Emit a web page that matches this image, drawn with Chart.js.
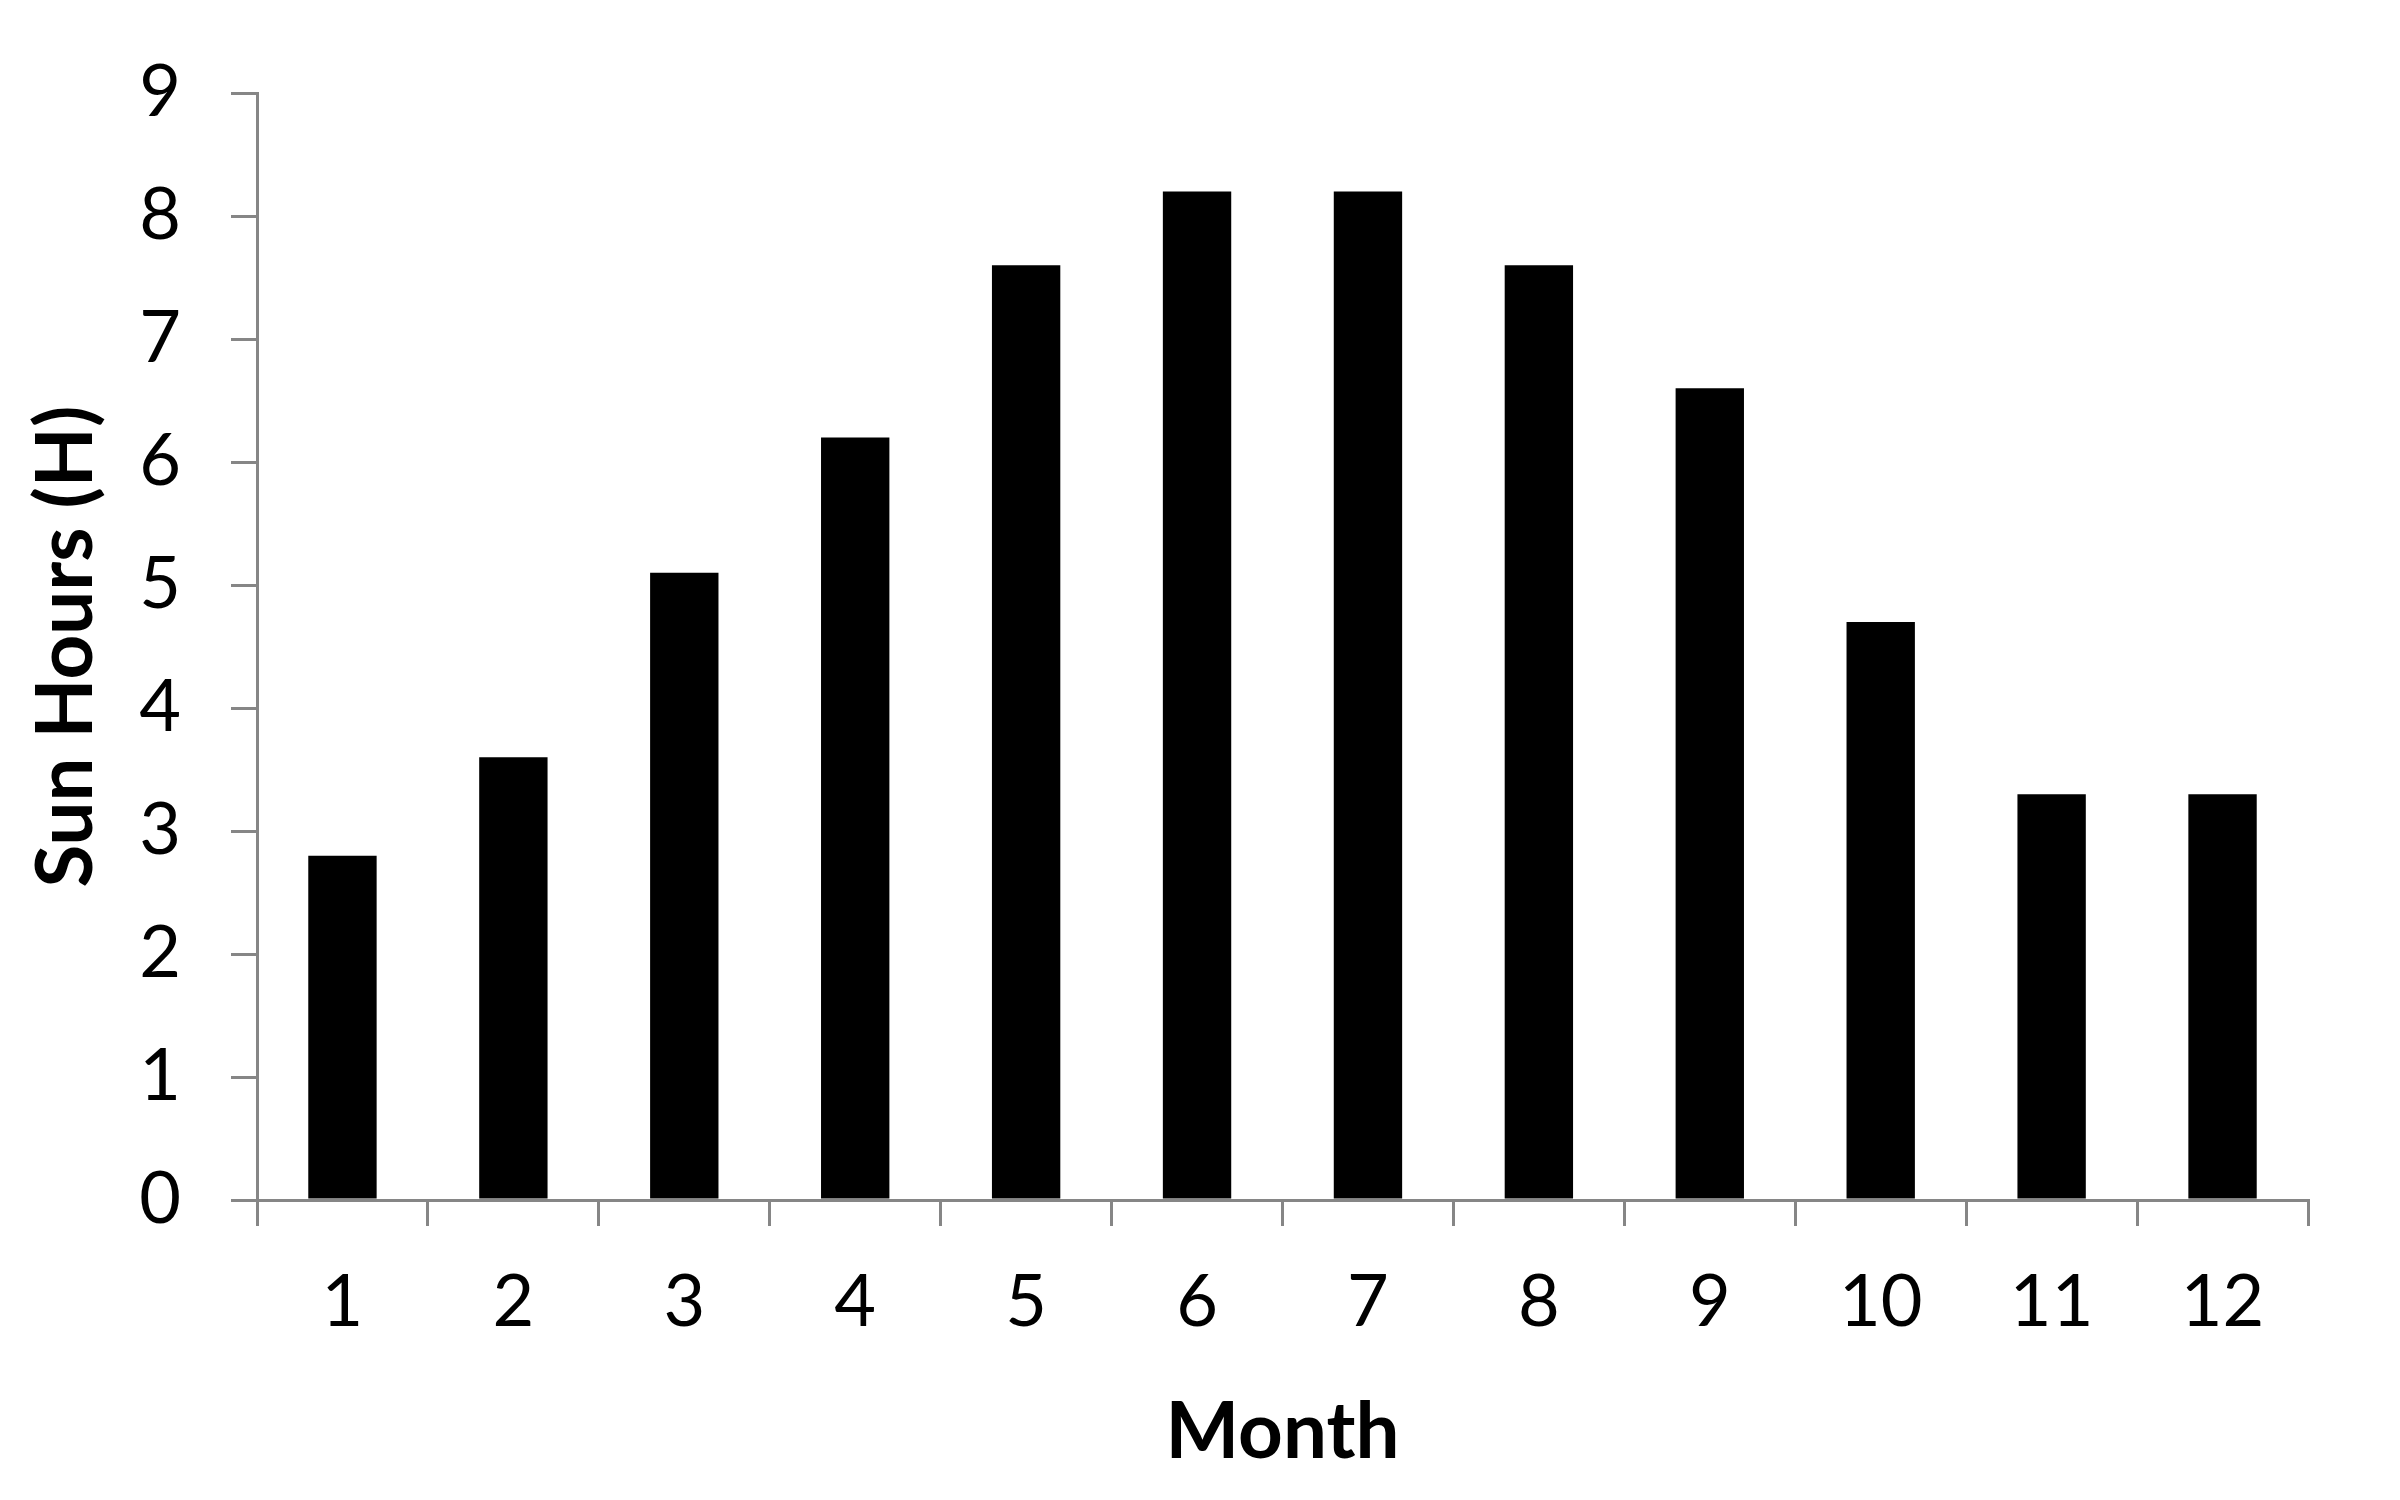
<!DOCTYPE html>
<html>
<head>
<meta charset="utf-8">
<script src="https://cdn.jsdelivr.net/npm/chart.js@4/dist/chart.umd.min.js"></script>
<style>
  html,body{margin:0;padding:0;background:#fff}
  #wrap{width:2400px;height:1500px}
</style>
</head>
<body>
<div id="wrap"><canvas id="ch" width="2400" height="1500"></canvas></div>
<script>
/* data */
const months = ['1','2','3','4','5','6','7','8','9','10','11','12'];
const sunHours = [2.8, 3.6, 5.1, 6.2, 7.6, 8.2, 8.2, 7.6, 6.6, 4.7, 3.3, 3.3];
const yTicks = [0,1,2,3,4,5,6,7,8,9];

const abu = '#868686';
const huruf = 'Lato, "Open Sans", sans-serif';

new Chart(document.getElementById('ch'), {
  type: 'bar',
  data: {
    labels: months,
    datasets: [{
      label: 'Sun Hours',
      data: sunHours,
      backgroundColor: '#000',
      borderWidth: 0,
      categoryPercentage: 1,
      barPercentage: 0.4
    }]
  },
  options: {
    responsive: false,
    animation: false,
    layout: { padding: { top: 93, right: 92, bottom: 0, left: 0 } },
    plugins: { legend: { display: false }, tooltip: { enabled: false } },
    scales: {
      x: {
        afterFit: s => { s.height = 300; },
        grid: { drawOnChartArea: false, drawTicks: true, tickLength: 26, color: abu, lineWidth: 3 },
        border: { display: true, color: abu, width: 3 },
        ticks: { color: '#000', font: { family: huruf, size: 72 }, padding: 34 },
        title: { display: true, text: 'Month', color: '#000',
                 font: { family: huruf, size: 78, weight: 'bold' }, padding: { top: 0, bottom: 20 } }
      },
      y: {
        min: 0, max: 9,
        afterFit: s => { s.width = 257; },
        afterBuildTicks: s => { s.ticks = yTicks.map(v => ({ value: v })); },
        grid: { drawOnChartArea: false, drawTicks: true, tickLength: 26, color: abu, lineWidth: 3 },
        border: { display: true, color: abu, width: 3 },
        ticks: { color: '#000', font: { family: huruf, size: 72 }, padding: 50 },
        title: { display: true, text: 'Sun Hours (H)', color: '#000',
                 font: { family: huruf, size: 78, weight: 'bold' }, padding: { top: 20, bottom: 0 } }
      }
    }
  }
});
</script>
</body>
</html>
